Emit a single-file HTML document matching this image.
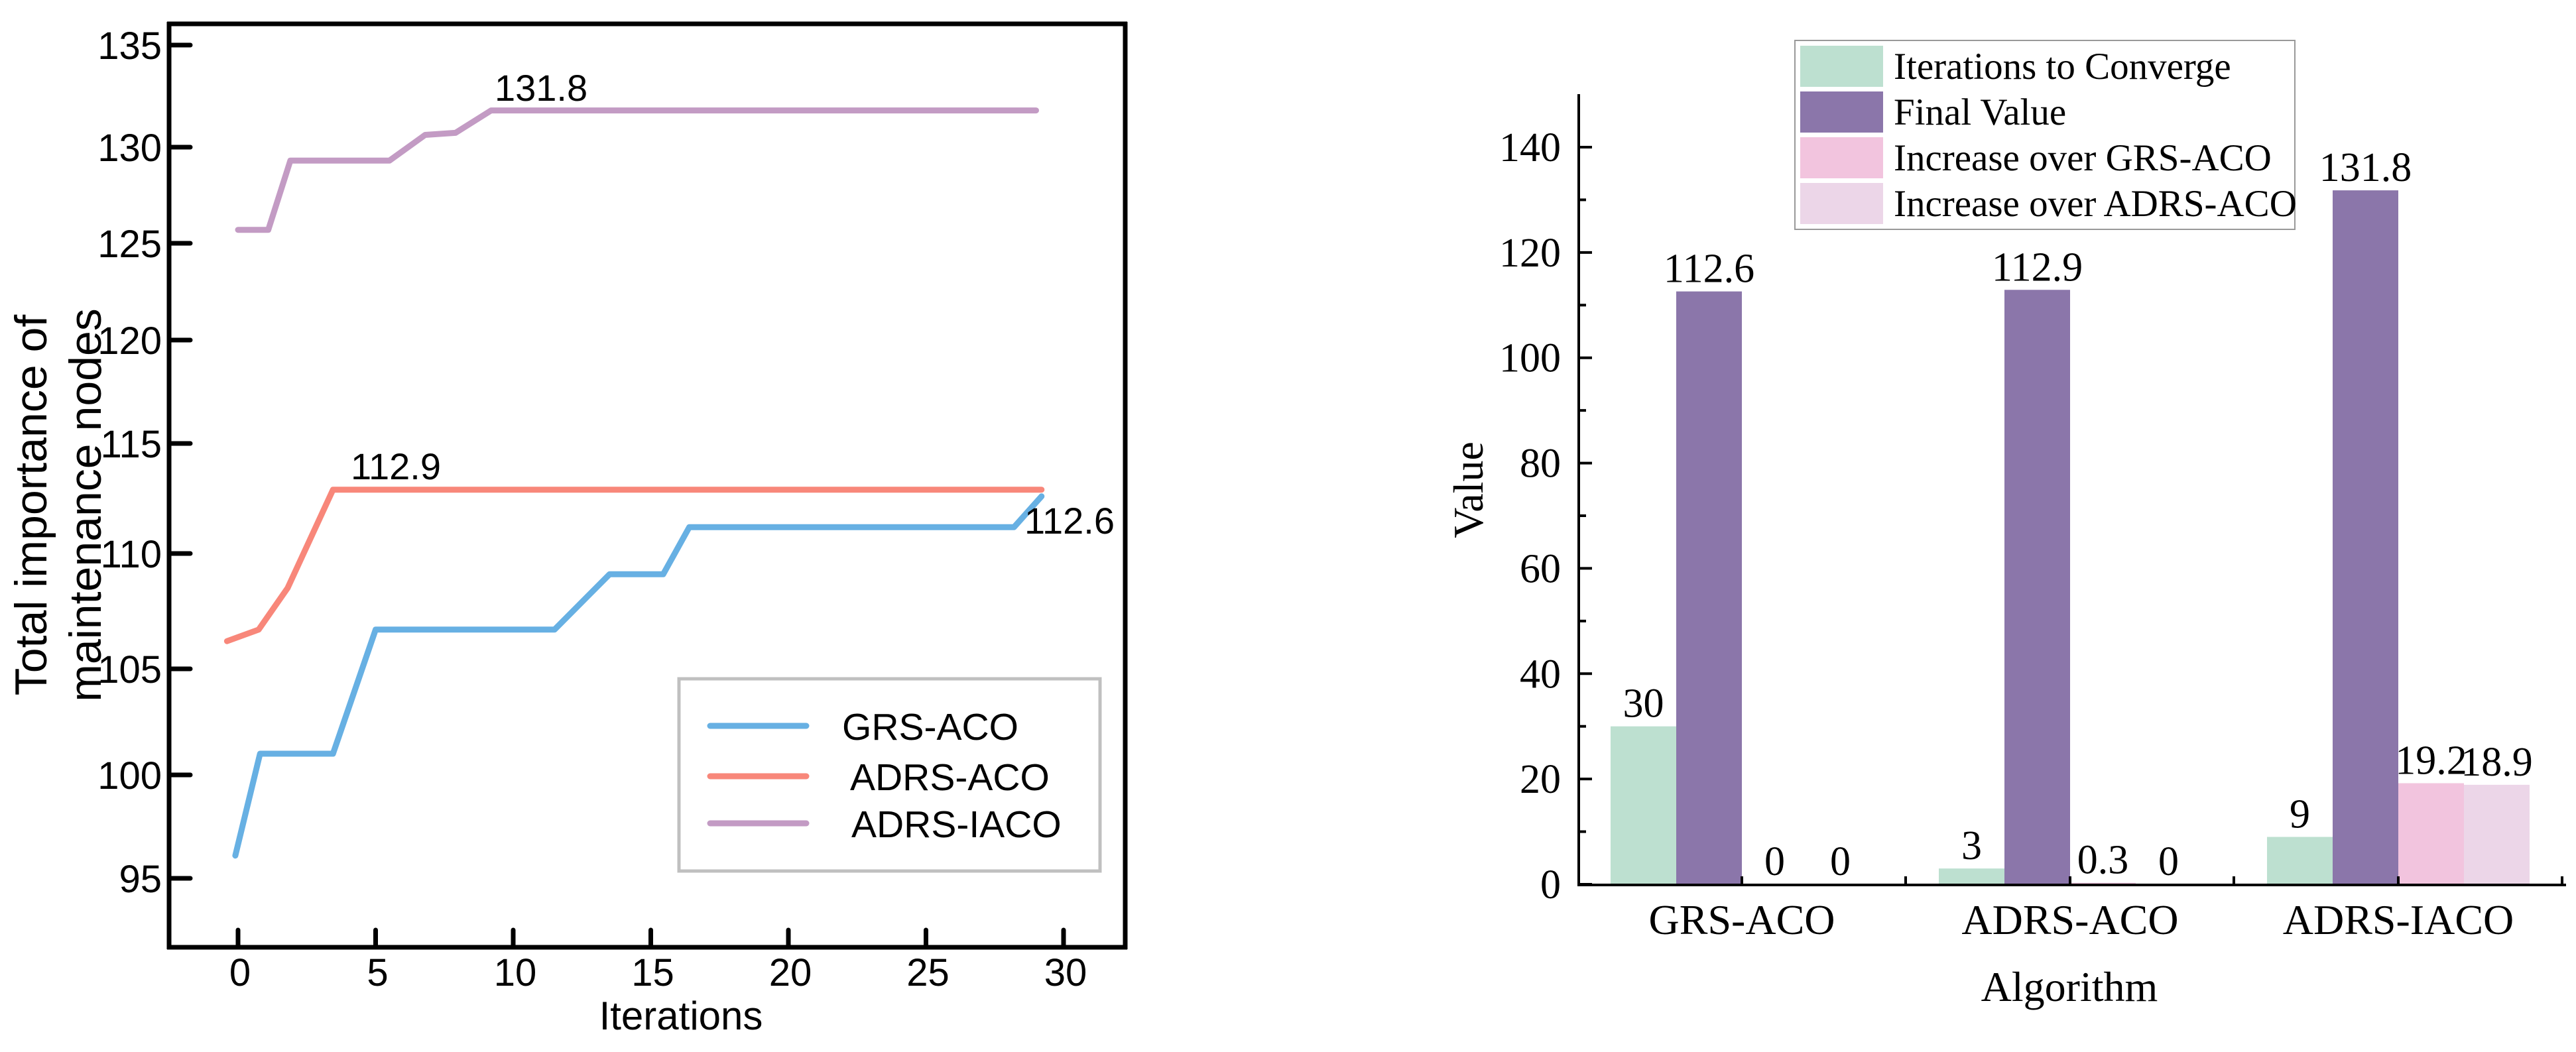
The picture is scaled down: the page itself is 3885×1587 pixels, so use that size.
<!DOCTYPE html>
<html><head><meta charset="utf-8"><style>
html,body{margin:0;padding:0;background:#fff;}
svg{display:block;}
</style></head><body>
<svg id="svg" width="3885" height="1587" viewBox="0 0 3885 1587" xmlns="http://www.w3.org/2000/svg">
<g id="left"></g>
<g id="right"></g>
</svg>
<script>
// ---------- Line chart data ----------
const lineSeriesNames = ['GRS-ACO', 'ADRS-ACO', 'ADRS-IACO'];
const grsX = [-0.1, 0.8, 3.45, 5.0, 11.5, 13.5, 15.45, 16.4, 28.2, 29.2];
const grsY = [96.1, 101.0, 101.0, 106.7, 106.7, 109.1, 109.1, 111.2, 111.2, 112.6];
const adrsX = [-0.4, 0.75, 1.8, 3.45, 29.2];
const adrsY = [106.2, 106.7, 108.5, 112.9, 112.9];
const iacoX = [0, 1.1, 1.9, 5.5, 6.8, 7.9, 9.2, 29.0];
const iacoY = [125.7, 125.7, 129.3, 129.3, 130.6, 130.7, 131.8, 131.8];
const lineXTicks = [0, 5, 10, 15, 20, 25, 30];
const lineYTicks = [95, 100, 105, 110, 115, 120, 125, 130, 135];
const lineAnnotations = ['131.8', '112.9', '112.6'];

// ---------- Bar chart data ----------
const barCategories = ['GRS-ACO', 'ADRS-ACO', 'ADRS-IACO'];
const barSeriesNames = ['Iterations to Converge', 'Final Value', 'Increase over GRS-ACO', 'Increase over ADRS-ACO'];
const itersToConverge = [30, 3, 9];
const finalValue = [112.6, 112.9, 131.8];
const incOverGRS = [0, 0.3, 19.2];
const incOverADRS = [0, 0, 18.9];
const barYTicks = [0, 20, 40, 60, 80, 100, 120, 140];

const NS = 'http://www.w3.org/2000/svg';
function mk(parent, tag, attrs, text) {
  const e = document.createElementNS(NS, tag);
  for (const k in attrs) e.setAttribute(k, attrs[k]);
  if (text !== undefined) e.textContent = text;
  parent.appendChild(e);
  return e;
}
const L = document.getElementById('left');
const R = document.getElementById('right');
const SANS = '"Liberation Sans", sans-serif';
const SERIF = '"Liberation Serif", serif';

// ---- Left chart scales ----
const lx = v => 359 + 41.5 * v;
const yAnchorPx = [1325, 1169, 1009, 835, 669, 513, 367, 222, 68];
function ly(v) {
  let i = Math.floor((v - 95) / 5);
  i = Math.max(0, Math.min(7, i));
  const t = (v - lineYTicks[i]) / 5;
  return yAnchorPx[i] + t * (yAnchorPx[i + 1] - yAnchorPx[i]);
}
let e;
e = mk(L, 'line', {x1: 255, y1: 33, x2: 255, y2: 1432, stroke: '#000', 'stroke-width': 7});
 
e = mk(L, 'line', {x1: 252, y1: 1429, x2: 1700, y2: 1429, stroke: '#000', 'stroke-width': 7});
 
e = mk(L, 'line', {x1: 252, y1: 36, x2: 1700, y2: 36, stroke: '#000', 'stroke-width': 7});
 
e = mk(L, 'line', {x1: 1697, y1: 33, x2: 1697, y2: 1432, stroke: '#000', 'stroke-width': 7});
 

lineYTicks.forEach(v => {
  const y = ly(v);
  let t = mk(L, 'line', {x1: 255, y1: y, x2: 287, y2: y, stroke: '#000', 'stroke-width': 7, 'stroke-linecap': 'round'});
   
  let s = mk(L, 'text', {x: 244, y: y + 21, 'text-anchor': 'end', 'font-family': SANS, 'font-size': 58}, String(v));
   
});
lineXTicks.forEach(v => {
  const x = lx(v);
  let t = mk(L, 'line', {x1: x, y1: 1429, x2: x, y2: 1403, stroke: '#000', 'stroke-width': 7, 'stroke-linecap': 'round'});
   
  let s = mk(L, 'text', {x: x + 3, y: 1487, 'text-anchor': 'middle', 'font-family': SANS, 'font-size': 58}, String(v));
   
});
e = mk(L, 'text', {x: 1027, y: 1553, 'text-anchor': 'middle', 'font-family': SANS, 'font-size': 60}, 'Iterations');
 
e = mk(L, 'text', {x: 0, y: 0, 'text-anchor': 'middle', 'font-family': SANS, 'font-size': 68, transform: 'translate(70,762) rotate(-90)'}, 'Total importance of');
 
e = mk(L, 'text', {x: 0, y: 0, 'text-anchor': 'middle', 'font-family': SANS, 'font-size': 68, transform: 'translate(152,762) rotate(-90)'}, 'maintenance nodes');
 

const lineColors = ['#67b0e3', '#f8877a', '#c39bc4'];
const seriesX = [grsX, adrsX, iacoX];
const seriesY = [grsY, adrsY, iacoY];
[2, 1, 0].forEach(i => {
  const pts = seriesX[i].map((x, j) => lx(x).toFixed(1) + ',' + ly(seriesY[i][j]).toFixed(1)).join(' ');
  let p = mk(L, 'polyline', {points: pts, fill: 'none', stroke: lineColors[i], 'stroke-width': 9, 'stroke-linejoin': 'round', 'stroke-linecap': 'round'});
  
  
});
e = mk(L, 'text', {x: 746, y: 152, 'font-family': SANS, 'font-size': 56}, lineAnnotations[0]);
 
e = mk(L, 'text', {x: 529, y: 723, 'font-family': SANS, 'font-size': 56}, lineAnnotations[1]);
 
e = mk(L, 'text', {x: 1545, y: 805, 'font-family': SANS, 'font-size': 56}, lineAnnotations[2]);
 

e = mk(L, 'rect', {x: 1024, y: 1024, width: 635, height: 290, fill: '#fff', stroke: '#c0c0c0', 'stroke-width': 5});
 
const legY = [1095, 1171, 1242];
const legTextX = [1270, 1282, 1284];
lineSeriesNames.forEach((n, i) => {
  let l = mk(L, 'line', {x1: 1071, y1: legY[i], x2: 1216, y2: legY[i], stroke: lineColors[i], 'stroke-width': 9, 'stroke-linecap': 'round'});
   
  let t = mk(L, 'text', {x: legTextX[i], y: legY[i] + 21, 'font-family': SANS, 'font-size': 57}, n);
   
});

// ---- Right chart ----
const by = v => 1334 - v * (1112 / 140);
const groupCenter = i => 2627 + 495 * i;
const barW = 99;
const barColors = ['#bde0d0', '#8b76aa', '#f2c4de', '#ecd6e8'];
const barSeries = [itersToConverge, finalValue, incOverGRS, incOverADRS];

barSeries.forEach((vals, s) => {
  vals.forEach((v, c) => {
    const x = groupCenter(c) - 2 * barW + s * barW;
    const y = by(v);
    let r = mk(R, 'rect', {x: x, y: y, width: barW, height: Math.max(0, 1334 - y), fill: barColors[s]});
    
    
    let t = mk(R, 'text', {x: x + barW / 2, y: y - 14, 'text-anchor': 'middle', 'font-family': SERIF, 'font-size': 62}, String(v));
     
  });
});
e = mk(R, 'line', {x1: 2381, y1: 142, x2: 2381, y2: 1336, stroke: '#000', 'stroke-width': 4});
 
e = mk(R, 'line', {x1: 2379, y1: 1335, x2: 3870, y2: 1335, stroke: '#000', 'stroke-width': 4});
 
barYTicks.forEach(v => {
  const y = by(v);
  let t = mk(R, 'line', {x1: 2381, y1: y, x2: 2401, y2: y, stroke: '#000', 'stroke-width': 4});
   
  if (v < 140) {
    let m = mk(R, 'line', {x1: 2381, y1: by(v + 10), x2: 2392, y2: by(v + 10), stroke: '#000', 'stroke-width': 4});
     
  }
  let s = mk(R, 'text', {x: 2354, y: y + 21, 'text-anchor': 'end', 'font-family': SERIF, 'font-size': 62}, String(v));
   
});
barCategories.forEach((c, i) => {
  const x = groupCenter(i);
  let t = mk(R, 'line', {x1: x, y1: 1335, x2: x, y2: 1322, stroke: '#000', 'stroke-width': 4});
   
  let b = mk(R, 'line', {x1: x + 247, y1: 1335, x2: x + 247, y2: 1322, stroke: '#000', 'stroke-width': 4});
   
  let s = mk(R, 'text', {x: x, y: 1409, 'text-anchor': 'middle', 'font-family': SERIF, 'font-size': 64}, c);
   
});
e = mk(R, 'text', {x: 3121, y: 1510, 'text-anchor': 'middle', 'font-family': SERIF, 'font-size': 64}, 'Algorithm');
 
e = mk(R, 'text', {x: 0, y: 0, 'text-anchor': 'middle', 'font-family': SERIF, 'font-size': 64, transform: 'translate(2236,739) rotate(-90)'}, 'Value');
 

e = mk(R, 'rect', {x: 2707, y: 61, width: 754, height: 285, fill: '#fff', stroke: '#999', 'stroke-width': 2});
 
barSeriesNames.forEach((n, i) => {
  const y = 69 + i * 69;
  let r = mk(R, 'rect', {x: 2715, y: y, width: 125, height: 62, fill: barColors[i]});
   
  let t = mk(R, 'text', {x: 2856, y: y + 50, 'font-family': SERIF, 'font-size': 57}, n);
   
});
</script>
</body></html>
